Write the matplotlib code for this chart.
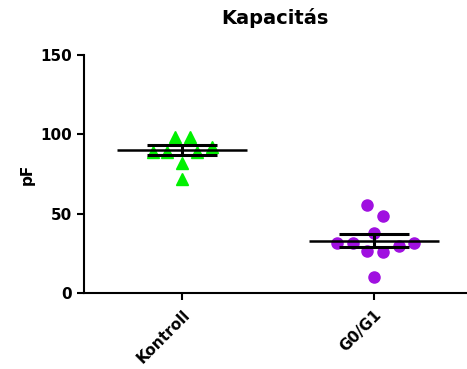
import numpy as np
import matplotlib
matplotlib.use("Agg")
import matplotlib.pyplot as plt

plt.rcParams["font.family"] = ["DejaVu Sans"]
plt.rcParams["font.weight"] = "bold"

groups = ["Kontroll", "G0/G1"]

kontroll = [98, 98, 89, 89, 89, 92, 82, 72]
kontroll_jitter = [-0.036, 0.041, -0.15, -0.078, 0.078, 0.155, 0.0, 0.0]

g0g1 = [55.4, 48.7, 38, 31.7, 31.3, 26.5, 25.6, 29.6, 31.7, 9.9]
g0g1_jitter = [-0.036, 0.047, 0.0, -0.19, -0.11, -0.036, 0.047, 0.13, 0.21, 0.0]

means = [90, 33]
sems = [3.0, 4.3]

fig = plt.figure(figsize=(4.67, 3.69), dpi=100)
ax = fig.add_axes([0.18, 0.206, 0.818, 0.645])

ax.plot(0 + np.array(kontroll_jitter), kontroll, linestyle="none", marker="^",
        markersize=9, color="#00f000", zorder=2)
ax.plot(1 + np.array(g0g1_jitter), g0g1, linestyle="none", marker="o",
        markersize=8, color="#a010e0", zorder=2)

for i, (m, s) in enumerate(zip(means, sems)):
    ax.hlines(m, i - 0.34, i + 0.34, color="black", linewidth=1.8, zorder=3)
    ax.errorbar(i, m, yerr=s, fmt="none", ecolor="black", elinewidth=2.2,
                capsize=25, capthick=2.2, zorder=3)

ax.set_xlim(-0.51, 1.48)
ax.set_ylim(0, 150)
ax.set_yticks([0, 50, 100, 150])
ax.set_xticks([0, 1])
ax.set_xticklabels(groups, rotation=45, ha="right", rotation_mode="anchor")
ax.tick_params(labelsize=11, width=1.5, length=5)
ax.tick_params(axis="x", pad=5)
for lab in ax.get_xticklabels() + ax.get_yticklabels():
    lab.set_fontweight("bold")

ax.spines["top"].set_visible(False)
ax.spines["right"].set_visible(False)
ax.spines["left"].set_linewidth(1.5)
ax.spines["bottom"].set_linewidth(1.5)

ax.set_ylabel("pF", fontsize=11, fontweight="bold", labelpad=4)
ax.set_title("Kapacitás", fontsize=14, fontweight="bold", pad=22)

fig.savefig("out.png", dpi=100)
